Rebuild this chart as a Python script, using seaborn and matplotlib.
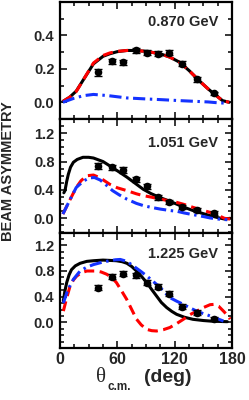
import numpy as np
import pandas as pd
import matplotlib
matplotlib.use("Agg")
import matplotlib.pyplot as plt
import seaborn as sns
from matplotlib.ticker import MultipleLocator

# ---------------- data ----------------
energies = ["0.870 GeV", "1.051 GeV", "1.225 GeV"]

data_theta = [40, 54, 66, 79.5, 91.3, 103, 114.4, 128, 143.6, 161]
data_p1 = [0.18, 0.245, 0.24, 0.31, 0.295, 0.29, 0.295, 0.23, 0.137, 0.053]
err_p1 = [0.02, 0.015, 0.015, 0.015, 0.015, 0.015, 0.015, 0.015, 0.015, 0.01]
data_p2 = [0.74, 0.72, 0.68, 0.55, 0.45, 0.295, 0.225, 0.155, 0.118, 0.075]
err_p2 = [0.04, 0.035, 0.04, 0.035, 0.035, 0.03, 0.03, 0.03, 0.03, 0.03]
data_p3 = [0.54, 0.71, 0.76, 0.735, 0.62, 0.555, 0.445, 0.245, 0.15, 0.057]
err_p3 = [0.04, 0.04, 0.04, 0.04, 0.04, 0.04, 0.04, 0.035, 0.035, 0.03]

# panel 1 curves
p1_black_x = [3, 10, 17, 25, 35, 45, 52, 60, 70, 77, 90, 105, 115, 125, 135, 146, 155, 160, 170, 177]
p1_black_y = [0.005, 0.03, 0.067, 0.14, 0.23, 0.275, 0.29, 0.303, 0.31, 0.31, 0.305, 0.29, 0.27, 0.24, 0.19, 0.127, 0.08, 0.056, 0.01, 0.0]
p1_red_x = [3, 10, 17, 25, 35, 45, 52, 60, 70, 77, 90, 105, 115, 125, 135, 146, 155, 160, 170, 177]
p1_red_y = [0.005, 0.03, 0.065, 0.14, 0.235, 0.28, 0.295, 0.305, 0.31, 0.31, 0.305, 0.29, 0.27, 0.24, 0.19, 0.127, 0.08, 0.056, 0.01, 0.0]
p1_blue_x = [3, 15, 25, 35, 50, 70, 90, 105, 125, 140, 155, 167, 175]
p1_blue_y = [0.0, 0.025, 0.04, 0.047, 0.04, 0.026, 0.02, 0.016, 0.01, 0.006, 0.002, -0.004, -0.005]

# panel 2 curves
p2_black_x = [4, 5.2, 7, 8.7, 11, 14, 18, 24, 30, 35, 45, 52, 60, 70, 80, 87, 95, 105, 115, 122, 130, 140, 150, 157, 165, 172, 178]
p2_black_y = [0.36, 0.39, 0.52, 0.62, 0.72, 0.79, 0.83, 0.86, 0.86, 0.85, 0.8, 0.74, 0.67, 0.58, 0.48, 0.41, 0.35, 0.29, 0.24, 0.2, 0.155, 0.105, 0.065, 0.038, 0.01, -0.01, 0.0]
p2_red_x = [3, 10, 17, 22, 28, 35, 42, 52, 60, 70, 80, 87, 95, 105, 115, 122, 130, 139, 150, 157, 165, 172, 178]
p2_red_y = [0.06, 0.25, 0.435, 0.53, 0.6, 0.61, 0.57, 0.48, 0.43, 0.39, 0.345, 0.32, 0.3, 0.27, 0.245, 0.225, 0.195, 0.155, 0.11, 0.084, 0.045, 0.0, -0.01]
p2_blue_x = [3, 10, 17, 25, 31, 36, 42, 50, 55, 62, 70, 80, 87, 95, 105, 115, 122, 130, 139, 150, 157, 165, 175]
p2_blue_y = [0.06, 0.25, 0.435, 0.53, 0.57, 0.575, 0.54, 0.45, 0.39, 0.33, 0.27, 0.21, 0.18, 0.155, 0.13, 0.11, 0.1, 0.075, 0.052, 0.025, 0.005, -0.01, -0.02]

# panel 3 curves
p3_black_x = [3.5, 5, 7, 9.5, 12, 16, 21, 28, 35, 45, 59, 65, 70, 75, 80, 85, 90.7, 96, 101, 106, 111.6, 117, 122, 130, 139, 150, 157, 165, 175]
p3_black_y = [0.33, 0.48, 0.62, 0.74, 0.82, 0.88, 0.92, 0.95, 0.96, 0.97, 0.96, 0.945, 0.92, 0.87, 0.8, 0.72, 0.62, 0.51, 0.41, 0.31, 0.23, 0.17, 0.125, 0.08, 0.047, 0.028, 0.02, 0.015, 0.01]
p3_blue_x = [3.5, 8, 14, 21, 28, 35, 45, 52, 58, 63, 70, 77, 84, 91, 98, 105, 110, 115, 122, 129, 136, 143, 150, 157, 164, 171]
p3_blue_y = [0.3, 0.5, 0.67, 0.8, 0.86, 0.9, 0.94, 0.96, 0.975, 0.98, 0.95, 0.875, 0.8, 0.72, 0.63, 0.54, 0.46, 0.385, 0.33, 0.28, 0.225, 0.175, 0.135, 0.1, 0.06, 0.02]
p3_red_x = [3.5, 7, 10.5, 14, 17.4, 22, 28, 38, 43, 48.8, 54, 59, 64, 69.7, 75, 80, 85, 90.7, 96, 101, 108, 115, 122, 129, 136, 143, 150, 157, 161, 166, 171, 175, 178]
p3_red_y = [0.175, 0.38, 0.565, 0.66, 0.72, 0.77, 0.8, 0.8, 0.785, 0.75, 0.7, 0.62, 0.5, 0.36, 0.2, 0.05, -0.04, -0.11, -0.13, -0.135, -0.115, -0.08, -0.02, 0.047, 0.12, 0.175, 0.23, 0.275, 0.28, 0.25, 0.175, 0.11, 0.05]

x_ticks = [0, 60, 120, 180]

# ---------------- style ----------------
sns.set_theme(style="ticks")
plt.rcParams["font.family"] = ["Liberation Sans", "DejaVu Sans"]
plt.rcParams["font.weight"] = "bold"

fig = plt.figure(figsize=(2.49, 4.0), dpi=100)
left, width = 0.241, 0.691
bounds = [(0.7025, 0.995), (0.41875, 0.7025), (0.13, 0.41875)]
ylims = [(-0.1, 0.6), (-0.2, 1.4), (-0.4, 1.4)]
yticks = [[0.0, 0.2, 0.4], [0.0, 0.4, 0.8, 1.2], [0.0, 0.4, 0.8, 1.2]]

panels = [
    (data_p1, err_p1, (p1_black_x, p1_black_y), (p1_red_x, p1_red_y), (p1_blue_x, p1_blue_y)),
    (data_p2, err_p2, (p2_black_x, p2_black_y), (p2_red_x, p2_red_y), (p2_blue_x, p2_blue_y)),
    (data_p3, err_p3, (p3_black_x, p3_black_y), (p3_red_x, p3_red_y), (p3_blue_x, p3_blue_y)),
]
label_offsets = [0.83, 0.79, 0.815]

LW = 2.2
RED = "#ff0000"
BLUE = "#1432ff"

axes = []
for i, (bnd, (dvals, derr, blk, red, blu)) in enumerate(zip(bounds, panels)):
    ax = fig.add_axes([left, bnd[0], width, bnd[1] - bnd[0]])
    axes.append(ax)
    sns.lineplot(x=blk[0], y=blk[1], ax=ax, color="black", lw=LW, sort=False, zorder=2)
    sns.lineplot(x=red[0], y=red[1], ax=ax, color=RED, lw=LW, sort=False, zorder=2,
                 linestyle=(0, (3.3, 1.8)))
    sns.lineplot(x=blu[0], y=blu[1], ax=ax, color=BLUE, lw=LW, sort=False, zorder=2,
                 linestyle=(0, (4.0, 1.5, 0.8, 1.5)))
    ax.errorbar(data_theta, dvals, yerr=derr, fmt="none", ecolor="black",
                elinewidth=1.0, capsize=3.2, capthick=1.0, zorder=3)
    sns.scatterplot(x=data_theta, y=dvals, ax=ax, color="black", s=30,
                    edgecolor="black", linewidth=0, zorder=4)

    ax.set_xlim(0, 180)
    ax.set_ylim(*ylims[i])
    ax.set_xticks(x_ticks)
    ax.xaxis.set_minor_locator(MultipleLocator(15))
    ax.set_yticks(yticks[i])
    ax.yaxis.set_minor_locator(MultipleLocator(0.1))
    ax.set_yticklabels([f"{v:.1f}" for v in yticks[i]], fontsize=10.5, fontweight="bold")
    ax.tick_params(which="both", direction="in", top=True, right=True, width=1.1, color="black")
    ax.tick_params(which="major", length=5, pad=4)
    ax.tick_params(which="minor", length=2.8)
    ax.tick_params(axis="x", which="major", labelsize=11.5, pad=3)
    for sp in ax.spines.values():
        sp.set_linewidth(1.6)
        sp.set_color("black")
    ax.set_xlabel("")
    ax.set_ylabel("")
    if i < 2:
        ax.tick_params(axis="x", labelbottom=False)
    else:
        ax.set_xticklabels([str(v) for v in x_ticks], fontweight="bold")
    ax.text(0.92, label_offsets[i], energies[i], transform=ax.transAxes, ha="right",
            va="center", fontsize=10.5, fontweight="bold")

# x-axis title built from pieces: serif theta, bold subscript, bold "(deg)"
fig.text(101 / 249, 1 - 377 / 400, "\u03b8", family=["Liberation Serif", "DejaVu Serif"],
         fontweight="normal", fontsize=15, ha="center", va="center")
fig.text(107 / 249, 1 - 387 / 400, "c.m.", fontsize=8.5, fontweight="bold",
         ha="left", va="center")
fig.text(144 / 249, 1 - 377 / 400, "(deg)", fontsize=14, fontweight="bold",
         ha="left", va="center")

fig.text(0.032, 0.571, "BEAM ASYMMETRY", rotation=90, ha="center", va="center",
         fontsize=10.5, fontweight="bold")

fig.savefig("out.png", dpi=100)
